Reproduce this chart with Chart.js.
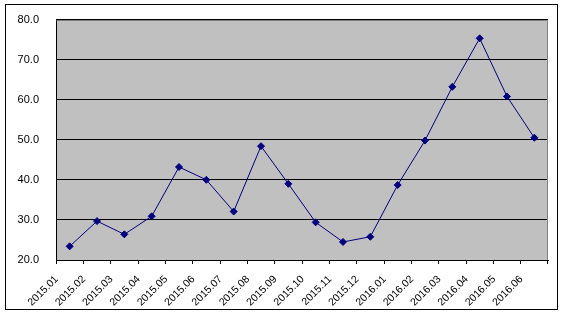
<!DOCTYPE html>
<html>
<head>
<meta charset="utf-8">
<script src="https://cdn.jsdelivr.net/npm/chart.js@4/dist/chart.umd.min.js"></script>
<style>
html,body{margin:0;padding:0;background:#fff;}
#frame{position:absolute;left:5px;top:4px;width:551px;height:304px;border:1px solid #000;background:#fff;}
#c{display:block;}
</style>
</head>
<body>
<div id="frame"><canvas id="c" width="551" height="304"></canvas></div>
<script>
const categories = ["2015.01","2015.02","2015.03","2015.04","2015.05","2015.06","2015.07","2015.08","2015.09","2015.10","2015.11","2015.12","2016.01","2016.02","2016.03","2016.04","2016.05","2016.06"];
const values = [23.4, 29.7, 26.4, 30.9, 43.2, 40.0, 32.1, 48.4, 39.0, 29.4, 24.5, 25.8, 38.7, 49.8, 63.2, 75.3, 60.8, 50.5];
const yMin = 20, yMax = 80, yStep = 10;

const plotBg = {
  id: 'plotBg',
  beforeDraw(chart) {
    const a = chart.chartArea, ctx = chart.ctx;
    ctx.save();
    ctx.fillStyle = '#C0C0C0';
    ctx.fillRect(a.left, a.top, a.right - a.left, a.bottom - a.top);
    ctx.restore();
  },
  afterDraw(chart) {
    const a = chart.chartArea, ctx = chart.ctx;
    ctx.save();
    ctx.strokeStyle = '#808080';
    ctx.lineWidth = 1;
    ctx.beginPath();
    ctx.moveTo(Math.round(a.left) + 0.5, Math.round(a.top) + 0.5);
    ctx.lineTo(Math.round(a.right) - 0.5, Math.round(a.top) + 0.5);
    ctx.lineTo(Math.round(a.right) - 0.5, Math.round(a.bottom));
    ctx.stroke();
    ctx.restore();
  }
};

new Chart(document.getElementById('c'), {
  type: 'line',
  data: {
    labels: categories,
    datasets: [{
      data: values,
      borderColor: '#000080',
      backgroundColor: '#000080',
      borderWidth: 1,
      pointStyle: 'rectRot',
      pointRadius: 3.5,
      pointBorderWidth: 1,
      pointBackgroundColor: '#000080',
      pointBorderColor: '#000080',
      tension: 0,
      fill: false
    }]
  },
  options: {
    responsive: false,
    animation: false,
    events: [],
    layout: { padding: { top: 14.5, right: 9, left: 0, bottom: 0 } },
    plugins: { legend: { display: false }, tooltip: { enabled: false } },
    scales: {
      x: {
        type: 'category',
        offset: true,
        grid: { offset: true, drawOnChartArea: false, drawTicks: true, tickLength: 4, color: '#000', lineWidth: 1 },
        border: { display: true, color: '#000', width: 1 },
        ticks: {
          color: '#000',
          font: { family: 'Liberation Sans, Arial, sans-serif', size: 10.5 },
          minRotation: 45, maxRotation: 45,
          autoSkip: false,
          labelOffset: -13,
          padding: 9
        },
        afterFit(s) { s.height = 49; }
      },
      y: {
        min: yMin, max: yMax,
        grid: { drawTicks: true, tickLength: 14, tickColor: 'rgba(0,0,0,0)', color: '#000', lineWidth: 1 },
        border: { display: true, color: '#000', width: 1 },
        ticks: {
          stepSize: yStep,
          color: '#000',
          font: { family: 'Liberation Sans, Arial, sans-serif', size: 11 },
          padding: 3,
          callback: v => v.toFixed(1)
        },
        afterFit(s) { s.width = 50; }
      }
    }
  },
  plugins: [plotBg]
});
</script>
</body>
</html>
